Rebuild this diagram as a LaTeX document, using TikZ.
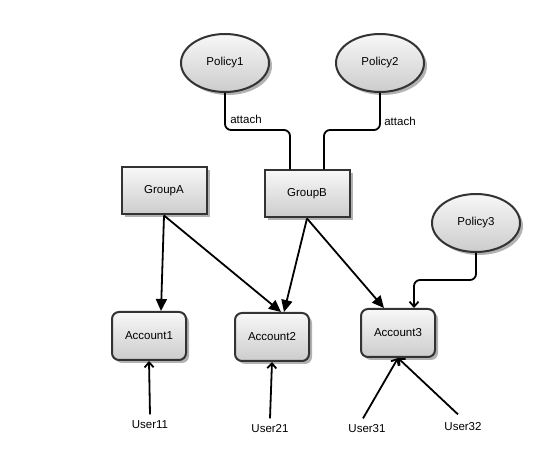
\documentclass[tikz,border=0pt]{standalone}
\usepackage{fontspec}
\setmainfont{Liberation Sans}
\usetikzlibrary{arrows.meta,shadows,shapes.geometric}

\begin{document}
\begin{tikzpicture}[x=1pt,y=-1pt,
  font=\fontsize{11.5}{13}\selectfont,
  shaded/.style={draw=black!80,line width=2pt,top color=black!3,bottom color=black!20,
    drop shadow={shadow xshift=3pt,shadow yshift=-3pt,fill=black!30,opacity=1}},
  policy/.style={shaded,ellipse,minimum width=88pt,minimum height=58pt,inner sep=0pt},
  group/.style={shaded,rectangle,minimum width=85pt,minimum height=47pt},
  account/.style={shaded,rectangle,rounded corners=7pt,minimum width=74pt,minimum height=48pt},
  conn/.style={line width=1.8pt,rounded corners=6pt},
  member/.style={line width=1.8pt,-{Triangle[length=12pt,width=11pt]}},
  login/.style={line width=1.8pt,-{Straight Barb[length=5pt,width=9pt]}}]
\useasboundingbox (0,0) rectangle (541,462);
\node[policy] (p1) at (225,63) {Policy1};
\node[policy] (p2) at (380,63) {Policy2};
\node[policy] (p3) at (476,223) {Policy3};
\node[group] (gA) at (164,191) {GroupA};
\node[group] (gB) at (307,194) {GroupB};
\node[account] (a1) at (149,336) {Account1};
\node[account] (a2) at (272,337) {Account2};
\node[account] (a3) at (398,333) {Account3};
\node (u11) at (150,425) {User11};
\node (u21) at (270,429) {User21};
\node (u31) at (367,429) {User31};
\node (u32) at (463,427) {User32};
\coordinate (b1) at (290,130);
\coordinate (b2) at (324,130);
\coordinate (b3) at (414,280);
\draw[conn] (p1.south) |- (b1) -- (b1 |- gB.north);
\draw[conn] (p2.south) |- (b2) -- (b2 |- gB.north);
\draw[conn,login] (p3.south) |- (b3) -- (b3 |- a3.north);
\node (t1) at (246,119) {attach};
\node (t2) at (400,121) {attach};
\draw[member] (gA.south) -- ([xshift=12pt]a1.north);
\draw[member] (gA.south) -- ([xshift=9pt]a2.north);
\draw[member] (gB.south) -- ([xshift=12pt]a2.north);
\draw[member] (gB.south) -- ([xshift=-14pt]a3.north);
\draw[login] ([yshift=3pt]u11.north) -- (a1.south);
\draw[login] ([yshift=3pt]u21.north) -- (a2.south);
\draw[login] ([xshift=-4pt,yshift=3pt]u31.north) -- (a3.south);
\draw[login] ([xshift=-5pt,yshift=5pt]u32.north) -- (a3.south);
\end{tikzpicture}
\end{document}
